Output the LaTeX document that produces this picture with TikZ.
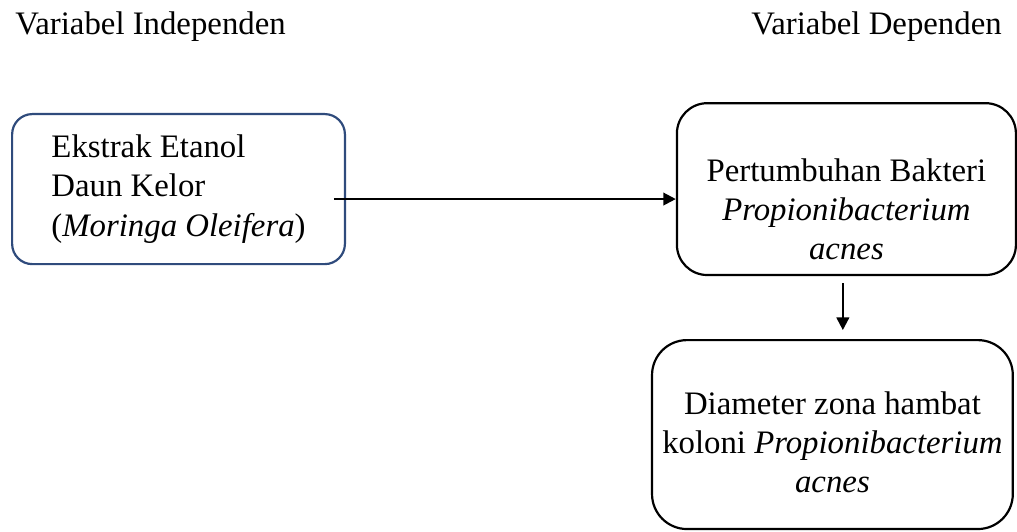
\documentclass[tikz,border=0pt]{standalone}
\usepackage{fontspec}
\setmainfont{Liberation Serif}
\usepackage{tikz}
\usetikzlibrary{arrows.meta}
\definecolor{frame}{HTML}{2F4B7C}

\begin{document}
\begin{tikzpicture}[
    font=\fontsize{12}{14.3}\selectfont,
    box/.style={draw, line width=0.8pt, align=center},
    link/.style={line width=0.8pt, -{Triangle[length=4.6pt,width=4.6pt]}}
  ]
      \useasboundingbox (0,0) rectangle (13.08,6.83);

      \path
      (0.19,6.39) node[anchor=base west, inner sep=0](indep) {Variabel Independen}
      (12.89,6.39) node[anchor=base east, inner sep=0](dep) {Variabel Dependen}
      ;

      \path
      (2.296,4.398) node[box, draw=frame, rounded corners=0.26cm,
        minimum width=4.28cm, minimum height=1.93cm, align=left](ext)
        {Ekstrak Etanol\\ Daun Kelor\\ (\textit{Moringa Oleifera})}
      (10.886,4.398) node[box, rounded corners=0.39cm,
        minimum width=4.36cm, minimum height=2.21cm](grow)
        {\rule{0pt}{23pt}Pertumbuhan Bakteri\\ \textit{Propionibacterium}\\ \textit{acnes}}
      (10.706,1.241) node[box, rounded corners=0.45cm,
        minimum width=4.64cm, minimum height=2.43cm](zone)
        {\rule{0pt}{14pt}Diameter zona hambat\\ koloni \textit{Propionibacterium}\\ \textit{acnes}}
      ;

      \coordinate (extout) at (4.295,4.27);
      \coordinate (growout) at (10.84,3.19);
      \coordinate (zonein) at (10.84,2.585);

      \draw[link] (extout) to (extout -| grow.west);
      \draw[link] (growout) to (zonein);
\end{tikzpicture}
\end{document}
